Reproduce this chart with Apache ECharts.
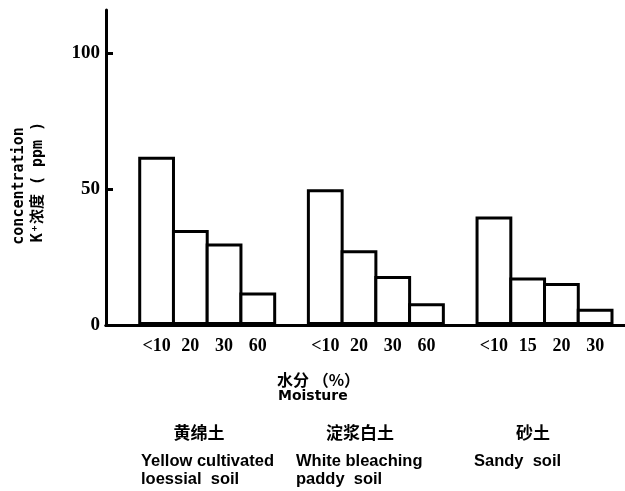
<!DOCTYPE html>
<html>
<head>
<meta charset="utf-8">
<script src="https://cdn.jsdelivr.net/npm/echarts@6/dist/echarts.min.js"></script>
<style>
  html, body { margin: 0; padding: 0; background: #fff; }
  #chart { width: 625px; height: 491px; }
</style>
</head>
<body>
<div id="chart"></div>
<script>
// Soil types (Chinese and English names)
const soilNames = ['黄绵土', '淀浆白土', '砂土'];
const soilNamesEn = [
  'Yellow cultivated\nloessial  soil',
  'White bleaching\npaddy  soil',
  'Sandy  soil'
];
// Moisture levels (%) per soil type
const moistureLevels = [
  ['<10', '20', '30', '60'],
  ['<10', '20', '30', '60'],
  ['<10', '15', '20', '30']
];
// K+ concentration (ppm) per soil type and moisture level
const potassium = [
  [62, 35, 30, 12],
  [50, 27.5, 18, 8],
  [40, 17.5, 15.5, 6]
];
// Y-axis tick values
const yTicks = [0, 50, 100];
const yTickMarks = [50, 100];

// Build the category slots: one empty slot before each soil group
const categories = [];
const values = [];
soilNames.forEach((_, g) => {
  categories.push('');
  values.push('-');
  moistureLevels[g].forEach((m, i) => {
    categories.push(m);
    values.push(potassium[g][i]);
  });
});

const serif = '"Liberation Serif", "DejaVu Serif", serif';
const sans = '"Liberation Sans", "Noto Sans CJK SC", sans-serif';
const cjk = '"Noto Sans CJK SC", sans-serif';

const chart = echarts.init(document.getElementById('chart'), null, { renderer: 'canvas' });

// Text blocks: axis titles and soil-type captions
const graphics = [];
graphics.push({
  type: 'text', x: 19, y: 186, rotation: Math.PI / 2,
  style: { text: 'concentration', font: 'bold 15px "DejaVu Sans Mono", monospace', fill: '#000', textAlign: 'center', textVerticalAlign: 'middle' }
});
graphics.push({
  type: 'text', x: 38, y: 182, rotation: Math.PI / 2,
  style: { text: 'K⁺浓度 ( ppm )', font: 'bold 15px "DejaVu Sans Mono", "Noto Sans CJK SC", monospace', fill: '#000', textAlign: 'center', textVerticalAlign: 'middle' }
});
const groupCenters = [199, 360, 533];
soilNames.forEach((n, i) => {
  graphics.push({
    type: 'text', x: groupCenters[i], y: 433,
    style: { text: n, font: 'bold 17px ' + cjk, fill: '#000', textAlign: 'center', textVerticalAlign: 'middle' }
  });
});
const enLeft = [141, 296, 474];
soilNamesEn.forEach((n, i) => {
  graphics.push({
    type: 'text', x: enLeft[i], y: 452,
    style: { text: n, font: 'bold 16.5px ' + sans, fill: '#000', textAlign: 'left', lineHeight: 18 }
  });
});
graphics.push({
  type: 'text', x: 277, y: 380,
  style: { text: '水分 （%）', font: 'bold 16px ' + cjk, fill: '#000', textAlign: 'left', textVerticalAlign: 'middle' }
});
graphics.push({
  type: 'text', x: 278, y: 396,
  style: { text: 'Moisture', font: 'bold 14px "DejaVu Sans", sans-serif', fill: '#000', textAlign: 'left', textVerticalAlign: 'middle' }
});

chart.setOption({
  animation: false,
  backgroundColor: '#fff',
  grid: [
    { left: 106, right: 13, top: 10, bottom: 166, containLabel: false },
    { left: 106, right: 0, top: 10, bottom: 166, containLabel: false }
  ],
  xAxis: [
    {
      type: 'category',
      gridIndex: 0,
      data: categories,
      boundaryGap: true,
      axisLine: { lineStyle: { color: '#000', width: 3 } },
      axisTick: { show: false },
      axisLabel: {
        interval: 0, margin: 12, color: '#000',
        fontFamily: serif, fontWeight: 'bold', fontSize: 18
      }
    },
    {
      type: 'value',
      gridIndex: 1,
      min: 0, max: 1,
      axisLine: { show: true, onZero: false, lineStyle: { color: '#000', width: 3 } },
      axisTick: { show: false },
      axisLabel: { show: false },
      splitLine: { show: false }
    }
  ],
  yAxis: [
    {
      type: 'value',
      gridIndex: 0,
      min: 0, max: 116,
      interval: 50,
      axisLine: { show: true, lineStyle: { color: '#000', width: 3 } },
      axisTick: { show: true, inside: true, length: 7, lineStyle: { color: '#000', width: 3 }, customValues: yTickMarks },
      axisLabel: {
        margin: 6, color: '#000', fontFamily: serif, fontWeight: 'bold', fontSize: 19,
        customValues: yTicks
      },
      splitLine: { show: false }
    },
    {
      type: 'value', gridIndex: 1, min: 0, max: 1, show: false
    }
  ],
  series: [
    {
      type: 'bar',
      xAxisIndex: 0, yAxisIndex: 0,
      data: values,
      // the border is drawn inside the bar, so widen it by one stroke
      // to let neighbouring bars share their edges
      barWidth: '109%',
      itemStyle: { color: '#fff', borderColor: '#000', borderWidth: 3 },
      emphasis: { disabled: true }
    }
  ],
  graphic: graphics
});
</script>
</body>
</html>
